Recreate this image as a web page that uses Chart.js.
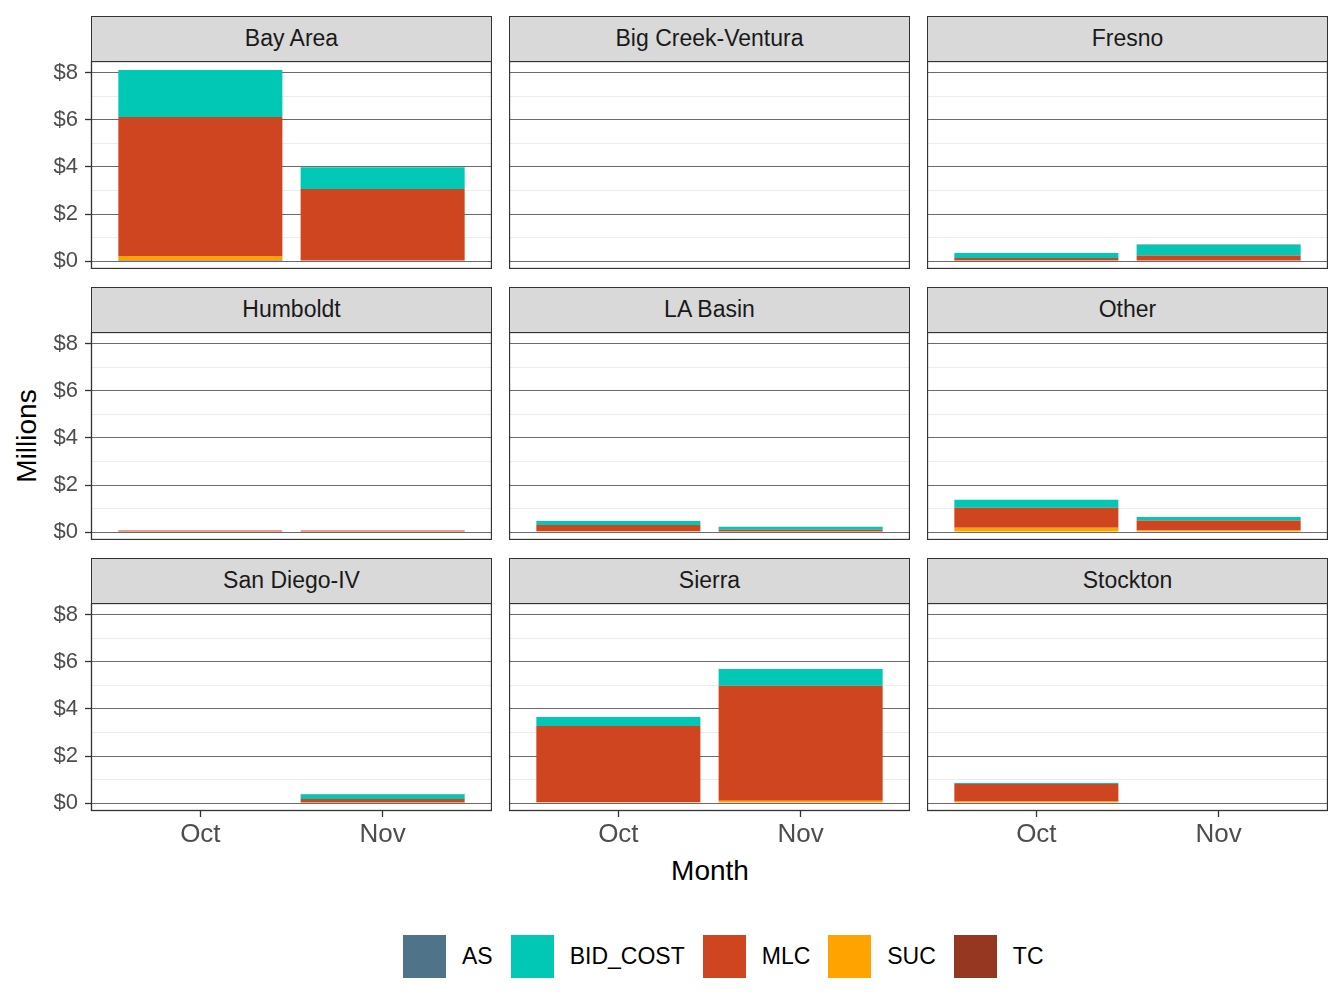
<!DOCTYPE html>
<html>
<head>
<meta charset="utf-8">
<script src="https://cdn.jsdelivr.net/npm/chart.js@4/dist/chart.umd.min.js"></script>
<style>
  body { margin: 0; background: #fff; font-family: "Liberation Sans", Arial, sans-serif; }
  #wrap { position: relative; width: 1344px; height: 1008px; overflow: hidden; }
  canvas { position: absolute; }
  .strip { position: absolute; box-sizing: border-box; background: #d9d9d9; border: 1.3px solid #333;
           text-align: center; font-size: 23px; color: #1a1a1a; }
  .ttl { position: absolute; font-size: 28px; color: #000; white-space: nowrap; transform: translate(-50%, -50%); }
  #legend { position: absolute; left: 403px; top: 935px; display: flex; align-items: center; }
  .key { width: 43px; height: 43px; }
  .lab { font-size: 23px; color: #000; margin: 0 18px 0 16px; }
</style>
</head>
<body>
<div id="wrap">
  <div class="ttl" style="left:710px;top:871px;">Month</div>
  <div class="ttl" style="left:27px;top:436px;transform:translate(-50%, -50%) rotate(-90deg);">Millions</div>
  <div id="legend"></div>
</div>
<script>
console.log('linked')

const regions = ['Bay Area', 'Big Creek-Ventura', 'Fresno', 'Humboldt', 'LA Basin', 'Other', 'San Diego-IV', 'Sierra', 'Stockton'];
const months = ['Oct', 'Nov'];
const yTicks = [0, 1, 2, 3, 4, 5, 6, 7, 8];

// values in millions, [Oct, Nov] per region
const AS       = [[0, 0], [0, 0], [0, 0.02], [0, 0], [0, 0], [0, 0], [0, 0.02], [0, 0], [0, 0]];
const BID_COST = [[2.00, 0.93], [0, 0], [0.21, 0.45], [0, 0], [0.17, 0.12], [0.34, 0.15], [0, 0.19], [0.38, 0.71], [0.04, 0]];
const MLC      = [[5.92, 3.06], [0, 0], [0.13, 0.23], [0.06, 0.06], [0.27, 0.10], [0.85, 0.43], [0.02, 0.17], [3.25, 4.89], [0.75, 0]];
const SUC      = [[0.17, 0], [0, 0], [0, 0], [0, 0], [0.03, 0], [0.18, 0.06], [0, 0], [0.03, 0.10], [0.06, 0]];
const TC       = [[0.04, 0], [0, 0], [0, 0], [0, 0], [0, 0], [0, 0], [0, 0], [0, 0], [0, 0]];

const seriesNames = ['AS', 'BID_COST', 'MLC', 'SUC', 'TC'];
const seriesData = [AS, BID_COST, MLC, SUC, TC];
const colors = ['#4f7489', '#00c8b4', '#cf4520', '#ffa300', '#963821'];

// layout of the facet grid
const colLeft = [91, 509, 927];
const rowTop = [61, 332, 603];
const panelW = 401, panelH = 208, stripH = 46;

const wrap = document.getElementById('wrap');

const borderPlugin = {
  id: 'panelBorder',
  afterDraw(chart) {
    const a = chart.chartArea, c = chart.ctx;
    c.save();
    c.strokeStyle = '#333';
    c.lineWidth = 1.3;
    c.strokeRect(a.left + 0.5, a.top + 0.5, a.right - a.left - 1, a.bottom - a.top - 1);
    c.restore();
  }
};

regions.forEach((name, i) => {
  const r = Math.floor(i / 3), col = i % 3;
  const left = col === 0 ? 0 : colLeft[col];
  const w = colLeft[col] + panelW - left;
  const h = panelH + (r === 2 ? 45 : 0);

  const strip = document.createElement('div');
  strip.className = 'strip';
  strip.style.left = colLeft[col] + 'px';
  strip.style.top = (rowTop[r] - stripH + 1) + 'px';
  strip.style.width = panelW + 'px';
  strip.style.height = stripH + 'px';
  strip.style.lineHeight = (stripH - 3) + 'px';
  strip.textContent = name;
  wrap.appendChild(strip);

  const cv = document.createElement('canvas');
  cv.width = w; cv.height = h;
  cv.style.left = left + 'px';
  cv.style.top = rowTop[r] + 'px';
  wrap.appendChild(cv);

  // ggplot stacks the first level on top, so draw from the last series up
  const datasets = [];
  for (let s = seriesNames.length - 1; s >= 0; s--) {
    datasets.push({
      label: seriesNames[s],
      data: months.map((m, k) => ({ x: k + 1, y: seriesData[s][i][k] })),
      backgroundColor: colors[s],
      borderWidth: 0,
      categoryPercentage: 1,
      barPercentage: 0.9
    });
  }

  new Chart(cv, {
    type: 'bar',
    data: { datasets: datasets },
    options: {
      responsive: false,
      animation: false,
      layout: { padding: 0 },
      plugins: { legend: { display: false }, tooltip: { enabled: false } },
      scales: {
        x: {
          type: 'linear',
          stacked: true,
          offset: false,
          min: 0.4,
          max: 2.6,
          display: r === 2,
          afterBuildTicks: s => { s.ticks = months.map((m, k) => ({ value: k + 1 })); },
          afterFit: s => {
            s.height = r === 2 ? 45 : 0;
            s.paddingLeft = 0; s.paddingRight = 0;
          },
          ticks: {
            callback: v => months[v - 1],
            color: '#4d4d4d',
            font: { size: 26, family: 'Liberation Sans' },
            padding: 2,
            maxRotation: 0,
            autoSkip: false
          },
          grid: { offset: false, drawOnChartArea: false, drawTicks: true, tickLength: 6, tickColor: '#333', tickWidth: 1.3 },
          border: { display: false }
        },
        y: {
          stacked: true,
          min: -0.34,
          max: 8.51,
          afterBuildTicks: s => { s.ticks = yTicks.map(v => ({ value: v })); },
          afterFit: s => {
            s.width = col === 0 ? 91 : 0;
            s.paddingTop = 0; s.paddingBottom = 0;
          },
          ticks: {
            display: col === 0,
            callback: v => (v % 2 === 0 ? '$' + v : ''),
            color: '#4d4d4d',
            font: { size: 22, family: 'Liberation Sans' },
            padding: 7,
            autoSkip: false
          },
          grid: {
            color: c => (c.tick && c.tick.value % 2 === 0 ? '#6b6b6b' : '#ececec'),
            lineWidth: 1,
            drawTicks: col === 0,
            tickLength: 6,
            tickColor: c => (c.tick && c.tick.value % 2 === 0 ? '#333' : 'rgba(0,0,0,0)'),
            tickWidth: 1.3
          },
          border: { display: false }
        }
      }
    },
    plugins: [borderPlugin]
  });
});

// legend, in ggplot order
const legend = document.getElementById('legend');
seriesNames.forEach((n, s) => {
  const k = document.createElement('div');
  k.className = 'key';
  k.style.background = colors[s];
  const l = document.createElement('div');
  l.className = 'lab';
  l.textContent = n;
  if (s === seriesNames.length - 1) l.style.marginRight = '0';
  legend.appendChild(k);
  legend.appendChild(l);
});
</script>
</body>
</html>
